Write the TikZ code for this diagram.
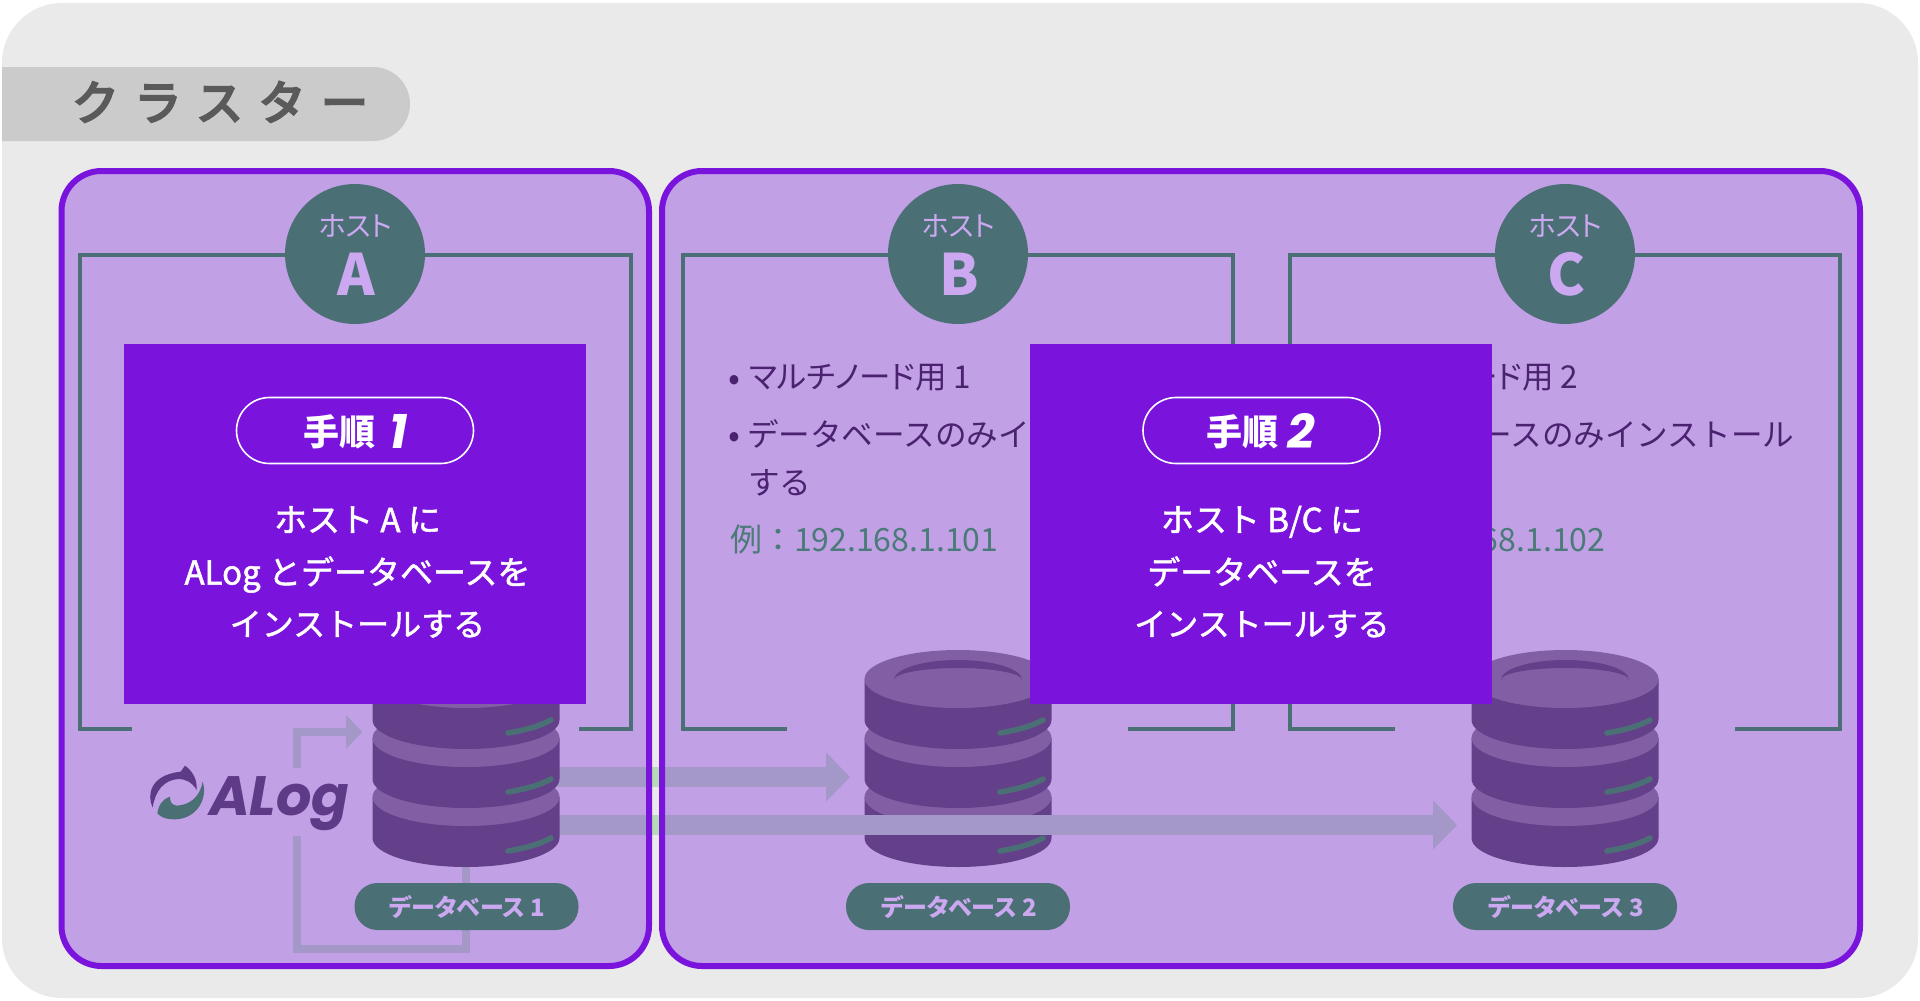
\documentclass[tikz,border=0pt]{standalone}
\usepackage{fontspec}
\usetikzlibrary{arrows.meta}
\setmainfont{Noto Sans CJK JP}[RawFeature=+palt]
\newfontfamily\cjkfull{Noto Sans CJK JP}
\newfontfamily\cjkwhite{Noto Sans CJK JP}[FakeBold=1.5]
\newfontfamily\logofont{Poppins}
\newcommand\fsz[1]{\fontsize{#1}{#1}\selectfont}
\definecolor{outerbg}{HTML}{EAEAEA}
\definecolor{tabbg}{HTML}{CBCBCB}
\definecolor{tabtxt}{HTML}{5A5A5A}
\definecolor{hostbg}{HTML}{C2A0E6}
\definecolor{vio}{HTML}{7A14DC}
\definecolor{tealc}{HTML}{4A7076}
\definecolor{dbdark}{HTML}{65408A}
\definecolor{dblight}{HTML}{825FA5}
\definecolor{band}{HTML}{A398C8}
\definecolor{gapgreen}{HTML}{B5DDB5}
\definecolor{lilac}{HTML}{CBA8F0}
\definecolor{bodytxt}{HTML}{4A2270}
\definecolor{iptxt}{HTML}{4A7B78}
\definecolor{logoc}{HTML}{5F3A86}
\tikzset{
  txt/.style={inner sep=0pt,outer sep=0pt,anchor=base},
  ltxt/.style={inner sep=0pt,outer sep=0pt,anchor=base west},
  hostframe/.style={draw=tealc,line width=4pt,fill=none},
  hostborder/.style={draw=vio,line width=6pt,rounded corners=40pt},
  hostcircle/.style={circle,fill=tealc,minimum size=140pt,inner sep=0pt},
  stepbox/.style={rectangle,fill=vio,minimum width=462pt,minimum height=360pt,inner sep=0pt},
  steppill/.style={rectangle,draw=white,line width=1.6pt,rounded corners=33pt,minimum width=237pt,minimum height=66pt,inner sep=0pt},
  dbpill/.style={rectangle,fill=tealc,rounded corners=23pt,minimum width=224pt,minimum height=47pt,inner sep=0pt},
  bigband/.style={draw=band,line width=20pt,-{Triangle[length=24pt,width=48pt]}},
  thinband/.style={draw=band,line width=8pt},
  hosttxt/.style={txt,text=lilac,font=\fsz{28}},
  hostletter/.style={txt,text=lilac,font=\fsz{57}\bfseries},
  bodyt/.style={ltxt,text=bodytxt,font=\fsz{31.5}},
  bodyfull/.style={ltxt,text=bodytxt,font=\cjkfull\fsz{31.6}},
  ipt/.style={ltxt,text=iptxt,font=\cjkfull\fsz{32}},
  bul/.style={txt,text=bodytxt,font=\fsz{35}},
  whitet/.style={txt,text=white,font=\cjkwhite\fsz{33}},
  pilltxt/.style={txt,text=lilac,font=\fsz{24}\bfseries},
}
\newcommand\dbstack[1]{%
 \begin{scope}[shift={(#1,0)}]
  \foreach \yy in {797,738,679}{
   \fill[dbdark] (-93.5,\yy) -- (-93.5,\yy+41) arc[start angle=180,end angle=360,x radius=93.5pt,y radius=29pt] -- (93.5,\yy) -- cycle;
   \fill[dblight] (0,\yy) ellipse[x radius=93.5pt,y radius=29pt];
   \draw[tealc,line width=5.5pt,line cap=round] (42,\yy+54) .. controls (60,\yy+51) and (74,\yy+47) .. (85,\yy+41);
  }
  \fill[dbdark] (-64,680) arc[start angle=180,end angle=0,x radius=64pt,y radius=20pt] arc[start angle=0,end angle=180,x radius=64pt,y radius=12pt] -- cycle;
 \end{scope}}
\begin{document}
\begin{tikzpicture}[x=1pt,y=-1pt]
\useasboundingbox (0,0) rectangle (1920,1001);
\fill[white] (0,0) rectangle (1920,1001);
% cluster
\fill[outerbg,rounded corners=60pt] (2,3) rectangle (1918,998);
\fill[tabbg] (2,67) -- (373,67) arc[start angle=90,end angle=-90,radius=37pt] -- (2,141) -- cycle;
\node[txt,text=tabtxt,font=\cjkfull\fsz{47}\addfontfeature{LetterSpace=33,FakeBold=5}] (clustertitle) at (220,120) {クラスター};
% host panels
\fill[hostbg,rounded corners=40pt] (61.5,171) rectangle (649,966);
\fill[hostbg,rounded corners=40pt] (662,171) rectangle (1860,966);
% databases 2,3
\dbstack{958}
\dbstack{1565}
% arrows
\coordinate (db1a) at (466,777);
\coordinate (db1b) at (466,825);
\coordinate (db2in) at (850,777);
\coordinate (db3in) at (1457,825);
\coordinate (loopstart) at (466,860);
\coordinate (loopend) at (297,836);
\coordinate (loopresume) at (297,768);
\coordinate (db1in) at (362.5,732);
\draw[bigband] (db1a) -- (db2in);
\draw[bigband] (db1b) -- (db3in);
\draw[thinband] (loopstart) |- (297,949) -- (loopend);
\draw[thinband,-{Triangle[length=16.5pt,width=33pt]}] (loopresume) |- (db1in);
% the bands show green over the pale gap
\fill[gapgreen] (652,767) rectangle (659,787);
\fill[gapgreen] (652,815) rectangle (659,835);
% database 1
\dbstack{466}
% borders
\draw[hostborder] (61.5,171) rectangle (649,966);
\draw[hostborder] (662,171) rectangle (1860,966);
% inner frames
\draw[hostframe] (132,729) -- (80,729) -- (80,254.5) -- (630.5,254.5) -- (630.5,729) -- (579,729);
\draw[hostframe] (787,729) -- (683,729) -- (683,254.5) -- (1233,254.5) -- (1233,729) -- (1128,729);
\draw[hostframe] (1395,729) -- (1290,729) -- (1290,254.5) -- (1840,254.5) -- (1840,729) -- (1735,729);
% host circles
\node[hostcircle] (hosta) at (355,254) {};
\node[hostcircle] (hostb) at (958,254) {};
\node[hostcircle] (hostc) at (1565,254) {};
\foreach \cx/\nm/\lt in {355/a/A,958/b/B,1565/c/C}{
  \node[hosttxt] (hostlabel\nm) at (\cx+0.5,236) {ホスト};
  \node[hostletter] (hostletter\nm) at (\cx+1.5,295) {\lt};
}
% host notes
\node[bul] (bb1) at (734,390) {•};
\node[bodyt] (bt1) at (749,388) {マルチノード用 1};
\node[bul] (bb2) at (734,447) {•};
\node[bodyfull] (bt2) at (747,446) {データベースのみインストール};
\node[bodyfull] (bt3) at (748,494) {する};
\node[ipt] (bt4) at (730,551) {例：192.168.1.101};
\node[bul] (cb1) at (1341,390) {•};
\node[bodyt] (ct1) at (1356,388) {マルチノード用 2};
\node[bul] (cb2) at (1341,447) {•};
\node[bodyfull] (ct2) at (1354,446) {データベースのみインストール};
\node[bodyfull] (ct3) at (1355,494) {する};
\node[ipt] (ct4) at (1337,551) {例：192.168.1.102};
% step boxes
\node[stepbox] (step1) at (355,524) {};
\node[stepbox] (step2) at (1261,524) {};
\node[steppill] (pill1) at (355,430.5) {};
\node[steppill] (pill2) at (1261.5,430.5) {};
\node[txt,text=white,font=\fsz{36}\bfseries] (s1a) at (339,445) {手順};
\node[txt,text=white,font=\logofont\fsz{48}\bfseries\itshape] (s1b) at (399,448) {1};
\node[txt,text=white,font=\fsz{36}\bfseries] (s2a) at (1242,445) {手順};
\node[txt,text=white,font=\logofont\fsz{48}\bfseries\itshape] (s2b) at (1301,448) {2};
\node[whitet] (l11) at (357.5,532) {ホスト A に};
\node[whitet] (l12) at (357.5,584.5) {ALog とデータベースを};
\node[whitet,font=\cjkwhite\fsz{32}] (l13) at (357.5,636) {インストールする};
\node[whitet] (l21) at (1262,532) {ホスト B/C に};
\node[whitet] (l22) at (1262,584.5) {データベースを};
\node[whitet,font=\cjkwhite\fsz{32}] (l23) at (1262,636) {インストールする};
% db pills
\node[dbpill] (dbp1) at (466.5,906.5) {};
\node[dbpill] (dbp2) at (958,906.5) {};
\node[dbpill] (dbp3) at (1565,906.5) {};
\node[pilltxt] (dbt1) at (467.5,916) {データベース 1};
\node[pilltxt] (dbt2) at (959,916) {データベース 2};
\node[pilltxt] (dbt3) at (1566,916) {データベース 3};
% logo
\begin{scope}[shift={(140,755)},x=0.3333pt,y=-0.3333pt]
 \fill[logoc] (38,158) .. controls (20,120) and (30,60) .. (122,50) -- (135,32)
   .. controls (160,50) and (172,75) .. (170,105)
   .. controls (155,80) and (135,72) .. (115,72)
   .. controls (70,75) and (45,110) .. (38,158) -- cycle;
 \fill[tealc] (188,80) .. controls (205,130) and (170,195) .. (100,193)
   .. controls (80,193) and (62,187) .. (52,175)
   .. controls (55,150) and (70,130) .. (90,125)
   .. controls (90,140) and (95,150) .. (110,152)
   .. controls (150,150) and (180,125) .. (188,80) -- cycle;
\end{scope}
\node[ltxt,text=logoc,font=\logofont\fsz{55.5}\bfseries\itshape] (logotext) at (209,815) {ALog};
\end{tikzpicture}
\end{document}
